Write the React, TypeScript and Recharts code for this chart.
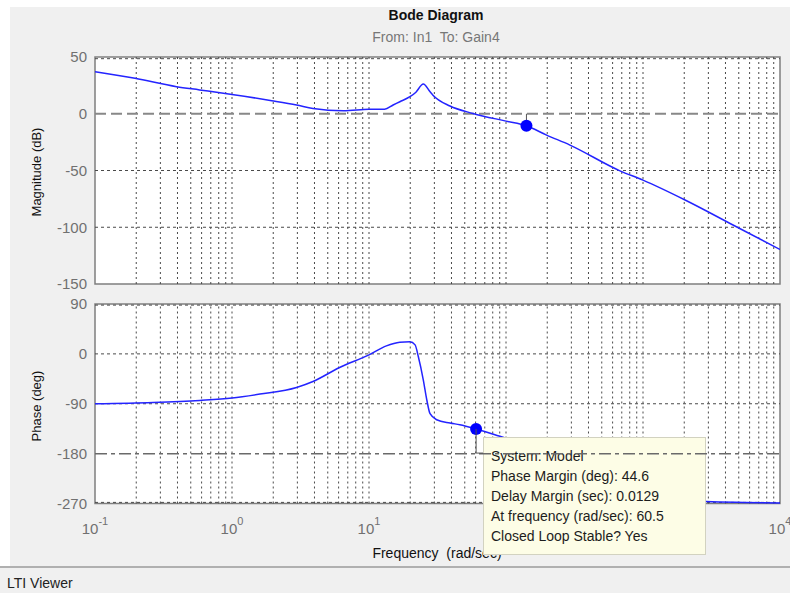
import { LineChart, Line, XAxis, YAxis, ReferenceLine, ReferenceArea, ReferenceDot } from "recharts"

const FONT = "'Liberation Sans', Arial, sans-serif"

// magnitude response (rad/s -> dB)
const magFreq = [0.1, 0.196, 0.394, 0.58, 1, 1.95, 2.96, 3.9, 6.5, 10, 13, 15, 16.8, 19.9, 22, 24.9, 27.9, 29.3, 39, 57.4, 100, 141, 198, 293, 679, 1000, 2028, 4540, 10000]
const magDb = [37, 31.2, 23.8, 21, 17, 11.5, 7.7, 4.7, 2.6, 3.9, 4, 7.7, 10.6, 15, 19, 26.2, 19.4, 16.4, 6.8, 0.3, -6.5, -10.6, -18.8, -27.6, -50.3, -58.5, -76, -98, -119.6]

// phase response (rad/s -> deg)
const phaseFreq = [0.1, 0.265, 0.58, 1, 1.6, 2.96, 3.9, 6.1, 10, 13.4, 16.8, 19.9, 21.7, 22.9, 24.9, 26.4, 27.9, 31.2, 39, 46, 60.5, 83, 120, 200, 400, 1000, 2600, 10000]
const phaseDeg = [-90, -87.6, -84, -79.8, -72.6, -60.6, -49.8, -24.6, -1.8, 14.4, 21, 22, 16.2, -4.8, -46.8, -82.8, -108, -118.8, -124.8, -127.8, -135.4, -145.8, -160, -195, -230, -255, -266, -269]

const decades = [0.1, 1, 10, 100, 1000, 10000]
// 10^2 and 10^3 labels sit under the data tip in the reference
const labelledDecades = [0.1, 1, 10, 10000]
const magTicks = [50, 0, -50, -100, -150]
const phaseTicks = [90, 0, -90, -180, -270]

// margin markers
const gainMarker = { f: 141, v: -10.6 }
const phaseMarker = { f: 60.5, v: -135.4 }
const tipEdgeFreq = 68

const tipLines = [
  "System: Model",
  "Phase Margin (deg): 44.6",
  "Delay Margin (sec): 0.0129",
  "At frequency (rad/sec): 60.5",
  "Closed Loop Stable? Yes",
]

// minor log grid: 2..9 inside each decade, plus the decades themselves
const gridFreqs: number[] = []
decades.slice(0, -1).forEach((d) => {
  for (let k = 1; k <= 9; k++) if (d * k > 0.1) gridFreqs.push(+(d * k).toPrecision(3))
})

const magRows = magFreq.map((f, i) => ({ f, v: magDb[i] }))
const phaseRows = phaseFreq.map((f, i) => ({ f, v: phaseDeg[i] }))

const GRID = "#4a4a4a"
const BORDER = "#7f7f7f"
const TICK = "#707070"

function DecadeTick({ x, y, payload }: any) {
  const exp = Math.round(Math.log10(payload.value))
  return (
    <text x={x} y={y} textAnchor="middle" fill={TICK} fontSize={15} fontFamily={FONT}>
      <tspan dy={30}>10</tspan>
      <tspan fontSize={11} dy={-9}>{exp}</tspan>
    </text>
  )
}

function xGrid() {
  return gridFreqs.map((f) => (
    <ReferenceLine key={"x" + f} x={f} stroke={GRID} strokeDasharray="2 3" strokeWidth={1} />
  ))
}

export default function App() {
  return (
    <div style={{ position: "absolute", left: 0, top: 0, width: 790, height: 593, background: "#fff", overflow: "hidden", fontFamily: FONT }}>
      <div style={{ position: "absolute", left: 10, top: 7, width: 780, height: 560, background: "#f0f0f0" }} />
      <div style={{ position: "absolute", left: 0, top: 566, width: 790, height: 27, background: "#f0f0f0", borderTop: "2px solid #b0b0b0" }} />
      <div style={{ position: "absolute", left: 7, top: 575, fontSize: 14, color: "#222" }}>LTI Viewer</div>

      <div style={{ position: "absolute", left: 0, width: 872, top: 7, textAlign: "center", fontSize: 14, fontWeight: "bold", color: "#111" }}>Bode Diagram</div>
      <div style={{ position: "absolute", left: 0, width: 872, top: 29, textAlign: "center", fontSize: 14, color: "#777" }}>From: In1&nbsp; To: Gain4</div>

      <div style={{ position: "absolute", left: 36, top: 172, transform: "translate(-50%, -50%) rotate(-90deg)", fontSize: 13, color: "#111", whiteSpace: "nowrap" }}>Magnitude (dB)</div>
      <div style={{ position: "absolute", left: 36, top: 406, transform: "translate(-50%, -50%) rotate(-90deg)", fontSize: 13, color: "#111", whiteSpace: "nowrap" }}>Phase (deg)</div>
      <div style={{ position: "absolute", left: 0, width: 874, top: 545, textAlign: "center", fontSize: 14, color: "#111", whiteSpace: "pre" }}>Frequency  (rad/sec)</div>

      {/* magnitude */}
      <div style={{ position: "absolute", left: 0, top: 0 }}>
        <LineChart width={790} height={300} margin={{ top: 57, right: 10, bottom: 16, left: 65 }}>
          <XAxis dataKey="f" type="number" scale="log" domain={[0.1, 10000]} allowDataOverflow hide />
          <YAxis type="number" domain={[-150, 50]} ticks={magTicks} width={30} tickLine={false} axisLine={false}
            tick={{ fill: TICK, fontSize: 15, fontFamily: FONT }} interval={0} />
          <ReferenceArea x1={0.1} x2={10000} y1={-150} y2={50} fill="#fff" fillOpacity={1} stroke="none" />
          {xGrid()}
          <ReferenceLine y={-50} stroke={GRID} strokeDasharray="3 3" />
          <ReferenceLine y={-100} stroke={GRID} strokeDasharray="3 3" />
          <ReferenceLine y={48.5} stroke={GRID} strokeDasharray="3 3" />
          <ReferenceLine y={0} stroke="#888" strokeWidth={2} strokeDasharray="11 5" />
          <ReferenceLine segment={[{ x: gainMarker.f, y: 0 }, { x: gainMarker.f, y: gainMarker.v }]} stroke="#555" />
          <Line data={magRows} dataKey="v" type="monotone" stroke="#2424ff" strokeWidth={1.5} dot={false} isAnimationActive={false} />
          <ReferenceDot x={gainMarker.f} y={gainMarker.v} r={6} fill="#0000ff" stroke="none" />
          <ReferenceArea x1={0.1} x2={10000} y1={-150} y2={50} fill="none" stroke={BORDER} strokeWidth={1.5} />
        </LineChart>
      </div>

      {/* phase */}
      <div style={{ position: "absolute", left: 0, top: 290 }}>
        <LineChart width={790} height={250} margin={{ top: 14, right: 10, bottom: 6.5, left: 65 }}>
          <XAxis dataKey="f" type="number" scale="log" domain={[0.1, 10000]} allowDataOverflow ticks={labelledDecades} interval={0}
            height={30} tickLine={false} axisLine={false} tickSize={0} tickMargin={0} tick={<DecadeTick />} />
          <YAxis type="number" domain={[-270, 90]} ticks={phaseTicks} width={30} tickLine={false} axisLine={false}
            tick={{ fill: TICK, fontSize: 15, fontFamily: FONT }} interval={0} />
          <ReferenceArea x1={0.1} x2={10000} y1={-270} y2={90} fill="#fff" fillOpacity={1} stroke="none" />
          {xGrid()}
          <ReferenceLine y={0} stroke={GRID} strokeDasharray="3 3" />
          <ReferenceLine y={-90} stroke={GRID} strokeDasharray="3 3" />
          <ReferenceLine y={-268} stroke={GRID} strokeDasharray="3 3" />
          <ReferenceLine y={88} stroke={GRID} strokeDasharray="3 3" />
          <Line data={phaseRows} dataKey="v" type="monotone" stroke="#2424ff" strokeWidth={1.5} dot={false} isAnimationActive={false} />
          <ReferenceDot x={phaseMarker.f} y={phaseMarker.v} r={6} fill="#0000ff" stroke="none" />
          <ReferenceArea x1={0.1} x2={10000} y1={-270} y2={90} fill="none" stroke={BORDER} strokeWidth={1.5} />
        </LineChart>
      </div>

      {/* data tip */}
      <div style={{ position: "absolute", left: 483, top: 437, width: 214, height: 108, background: "#fdfde6", border: "1px solid #d2d2c0", padding: "8px 0 0 7px", boxSizing: "content-box", fontSize: 14, lineHeight: "20px", color: "#1c1c1c", whiteSpace: "nowrap" }}>
        {tipLines.map((t) => <div key={t}>{t}</div>)}
      </div>

      {/* -180 line and tip pointer sit on top of the data tip */}
      <div style={{ position: "absolute", left: 0, top: 290 }}>
        <LineChart width={790} height={250} margin={{ top: 14, right: 10, bottom: 36.5, left: 95 }}>
          <XAxis dataKey="f" type="number" scale="log" domain={[0.1, 10000]} allowDataOverflow hide />
          <YAxis type="number" domain={[-270, 90]} allowDataOverflow hide />
          <Line data={phaseRows} dataKey="v" stroke="none" dot={false} isAnimationActive={false} />
          <ReferenceLine y={-180} stroke="#6a6a6a" strokeWidth={1.5} strokeDasharray="12 4 4 4" />
          <ReferenceLine segment={[{ x: phaseMarker.f, y: phaseMarker.v }, { x: phaseMarker.f, y: -179 }]} stroke="#555" />
          <ReferenceLine segment={[{ x: phaseMarker.f, y: -179 }, { x: tipEdgeFreq, y: -179 }]} stroke="#555" />
        </LineChart>
      </div>
    </div>
  )
}
